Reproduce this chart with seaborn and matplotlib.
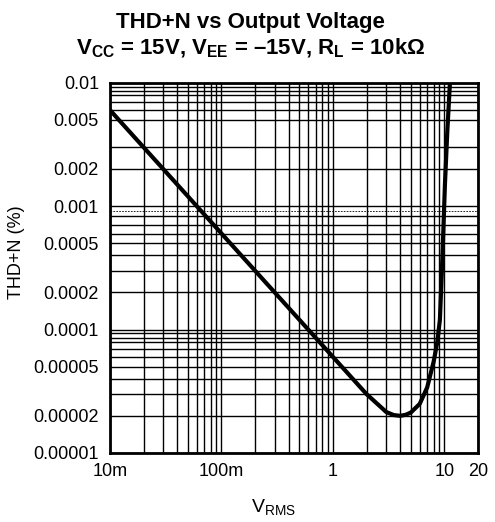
import matplotlib
matplotlib.use("Agg")
from matplotlib import pyplot as plt
from matplotlib.ticker import FixedLocator, FixedFormatter, NullFormatter
import pandas as pd
import seaborn as sns

# curve (V rms, THD+N %)
vrms = [0.01, 0.03, 0.1, 0.3, 1.0, 1.5, 2.0, 2.5, 3.0, 3.5, 4.0, 4.5, 5.0, 6.0,
        7.0, 8.0, 8.6, 9.1, 9.6, 10.1, 10.6, 11.2]
thdn = [0.006, 0.002, 0.0006, 0.0002, 0.00006, 0.00004, 0.00003, 0.000025,
        0.0000215, 0.0000203, 0.00002, 0.0000204, 0.0000213, 0.000025,
        0.000034, 0.000055, 0.000078, 0.00012, 0.0004, 0.0015, 0.004, 0.01]

x_ticks = [0.01, 0.1, 1, 10, 20]
x_labels = ["10m", "100m", "1", "10", "20"]
x_minor = [0.02, 0.03, 0.04, 0.05, 0.06, 0.07, 0.08, 0.09,
           0.2, 0.3, 0.4, 0.5, 0.6, 0.7, 0.8, 0.9,
           2, 3, 4, 5, 6, 7, 8, 9]

y_ticks = [0.01, 0.005, 0.002, 0.001, 0.0005, 0.0002, 0.0001, 0.00005,
           0.00002, 0.00001]
y_labels = ["0.01", "0.005", "0.002", "0.001", "0.0005", "0.0002", "0.0001",
            "0.00005", "0.00002", "0.00001"]
y_minor = [0.0093, 0.0086, 0.008, 0.007, 0.006, 0.003,
           0.00083, 0.0007, 0.0006, 0.0004, 0.0003,
           0.000093, 0.000086, 0.00008, 0.00007, 0.00006, 0.00004, 0.00003]
y_dotted = 0.00092

df = pd.DataFrame({"vrms": vrms, "thdn": thdn})

sns.set_style("white")
plt.rcParams["font.family"] = ["Liberation Sans", "DejaVu Sans"]
plt.rcParams["mathtext.fontset"] = "custom"
plt.rcParams["mathtext.rm"] = "Liberation Sans"
plt.rcParams["mathtext.bf"] = "Liberation Sans:bold"
plt.rcParams["mathtext.it"] = "Liberation Sans:italic"
plt.rcParams["text.color"] = "black"
plt.rcParams["axes.labelcolor"] = "black"
plt.rcParams["xtick.color"] = "black"
plt.rcParams["ytick.color"] = "black"

fig = plt.figure(figsize=(4.95, 5.22), dpi=100)
ax = fig.add_axes([0.2222, 0.1322, 0.7435, 0.7094])

sns.lineplot(data=df, x="vrms", y="thdn", ax=ax, color="black", lw=3.0,
             sort=False, zorder=5)

ax.set_xscale("log")
ax.set_yscale("log")
ax.set_xlim(0.01, 20)
ax.set_ylim(0.00001, 0.01)

ax.xaxis.set_major_locator(FixedLocator(x_ticks))
ax.xaxis.set_major_formatter(FixedFormatter(x_labels))
ax.xaxis.set_minor_locator(FixedLocator(x_minor))
ax.xaxis.set_minor_formatter(NullFormatter())
ax.yaxis.set_major_locator(FixedLocator(y_ticks))
ax.yaxis.set_major_formatter(FixedFormatter(y_labels))
ax.yaxis.set_minor_locator(FixedLocator(y_minor))
ax.yaxis.set_minor_formatter(NullFormatter())

ax.grid(which="both", color="black", lw=1.0)
ax.axhline(y_dotted, color="black", lw=0.6, ls=(0, (2, 1.5)))
ax.tick_params(which="both", length=0, labelsize=13, colors="black",
               labelcolor="black")
ax.tick_params(axis="y", pad=8)
ax.tick_params(axis="x", pad=7)

for s in ax.spines.values():
    s.set_visible(True)
    s.set_color("black")
    s.set_linewidth(2.0)

ax.set_ylabel("THD+N (%)", fontsize=13, color="black")
ax.yaxis.set_label_coords(-0.231, 0.543)
ax.set_xlabel(r"V$_{\mathrm{RMS}}$", fontsize=14, color="black")
ax.xaxis.set_label_coords(0.443, -0.12)

fig.text(0.506, 0.957, "THD+N vs Output Voltage", ha="center", va="center",
         fontsize=16, fontweight="bold", color="black")
fig.text(0.506, 0.907,
         r"V$_{\mathbf{CC}}$ = 15V, V$_{\mathbf{EE}}$ = –15V, "
         r"R$_{\mathbf{L}}$ = 10k$\mathbf{\Omega}$",
         ha="center", va="center", fontsize=16, fontweight="bold",
         color="black")

fig.savefig("out.png", dpi=100)
